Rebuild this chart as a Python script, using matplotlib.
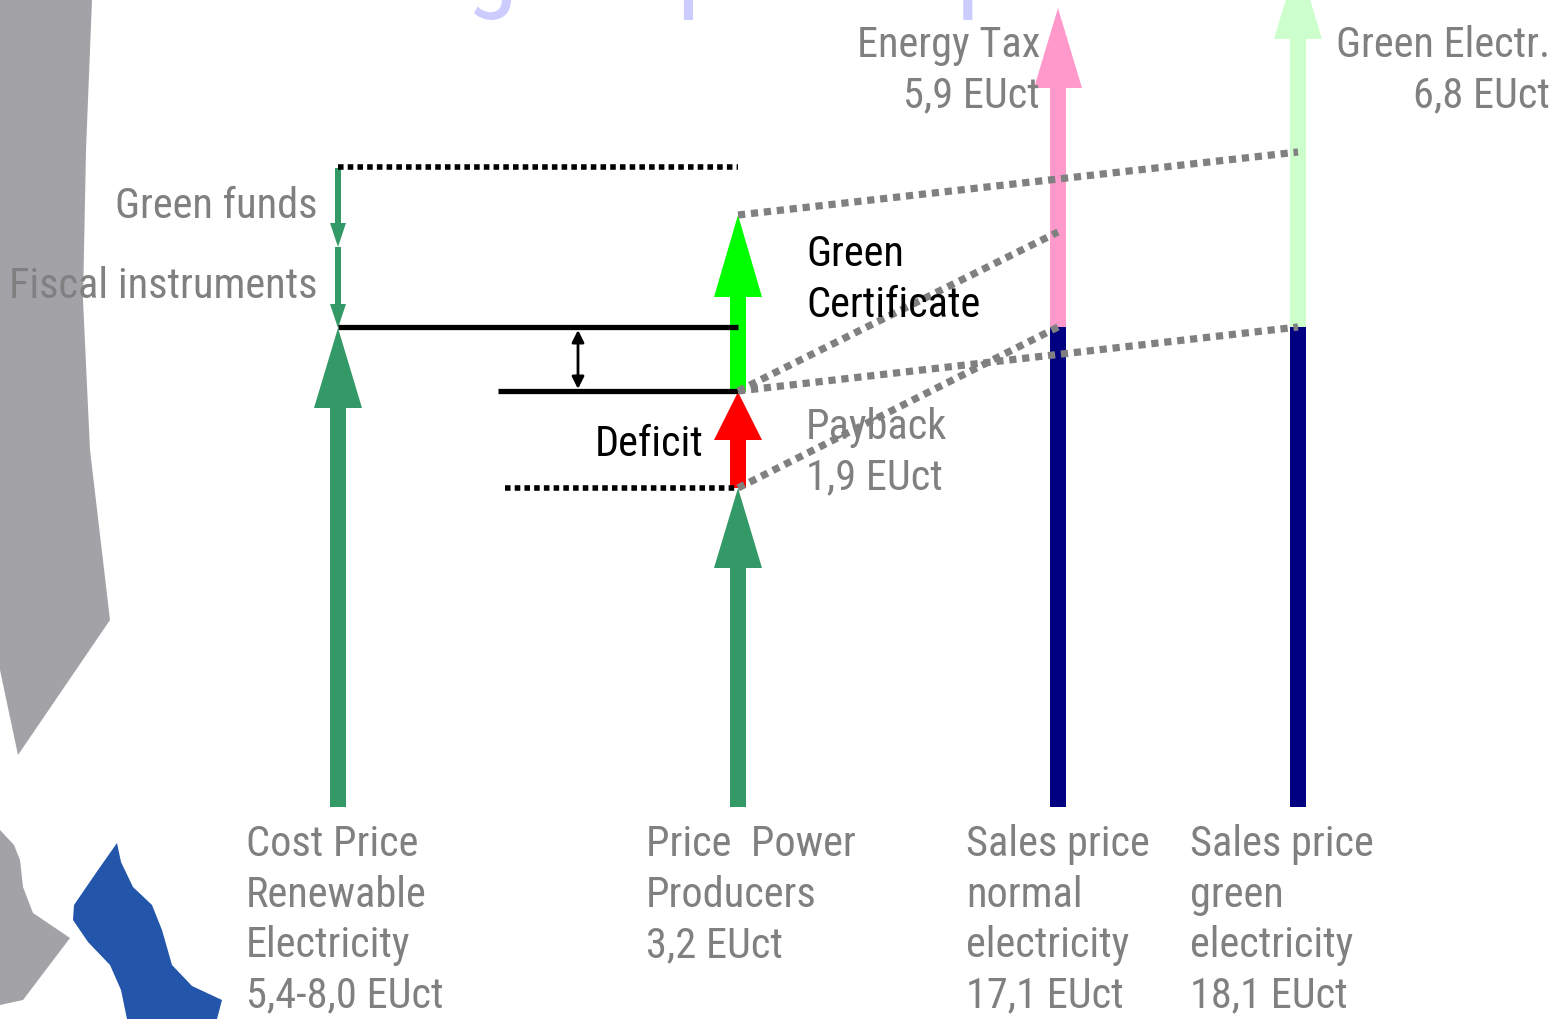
import matplotlib
matplotlib.use("Agg")
import matplotlib.pyplot as plt
from matplotlib import font_manager as fm
from matplotlib.patches import FancyArrow

# labels under the columns
col_labels = ["Cost Price\nRenewable\nElectricity\n5,4-8,0 EUct",
              "Price  Power\nProducers\n3,2 EUct",
              "Sales price\nnormal\nelectricity\n17,1 EUct",
              "Sales price\ngreen\nelectricity\n18,1 EUct"]
col_x = [338, 738, 1058, 1298]
label_x = [246, 646, 966, 1190]

# levels of the diagram (picture units, y grows downwards)
base = 807
cost_top = 328
funds_top = 168
funds_mid = 247
producer_top = 488
deficit_top = 392
cert_top = 215
sales_split = 327
tax_top = 8
green_el_top = -41

top_labels = ["Energy Tax\n5,9 EUct", "Green Electr.\n6,8 EUct"]
top_label_x = [1040, 1550]

title_first = "Subsidising"
title_rest = " of  power producers"

GREEN = '#339966'
GRAY = '#808080'
NAVY = '#000080'


def narrow_font():
    # look for a narrow / condensed regular face among the installed fonts
    found = []
    for f in fm.fontManager.ttflist:
        narrow = ('Narrow' in f.name or 'Condensed' in f.name
                  or f.stretch in ('condensed', 'semi-condensed', 'extra-condensed'))
        if narrow and f.style == 'normal' and f.weight in (400, 'normal', 'regular'):
            found.append(f)
    order = ['Liberation Sans Narrow', 'Roboto Condensed', 'DejaVu Sans', 'Open Sans']
    found.sort(key=lambda f: order.index(f.name) if f.name in order else len(order))
    return found[0].fname if found else None


fpath = narrow_font()
FS = 30.5 if fpath else 25


def font(size=None):
    size = size or FS
    if fpath:
        return fm.FontProperties(fname=fpath, size=size)
    return fm.FontProperties(family='Liberation Sans', size=size)


fig = plt.figure(figsize=(15.58, 10.19), dpi=100)
ax = fig.add_axes([0, 0, 1, 1])
ax.set_xlim(0, 1558)
ax.set_ylim(1019, 0)
ax.axis('off')

# decoration: grey and blue shapes of the slide template
grey_big = [(0, 0), (92, 0), (86, 150), (83, 300), (90, 450), (110, 620), (18, 755), (0, 670)]
grey_small = [(0, 830), (14, 845), (20, 860), (23, 887), (33, 913), (70, 938), (23, 1000), (0, 1005)]
blue_wave = [(117, 843), (121, 862), (133, 887), (152, 905), (162, 930), (172, 965), (192, 986),
             (222, 1000), (217, 1019), (127, 1019), (121, 990), (110, 965), (88, 942),
             (73, 920), (74, 905), (98, 870)]
ax.fill(*zip(*grey_big), color='#a2a2a7', lw=0, zorder=1)
ax.fill(*zip(*grey_small), color='#a2a2a7', lw=0, zorder=1)
ax.fill(*zip(*blue_wave), color='#2356aa', lw=0, zorder=1)

# title, mostly cut off at the top; the final "g" of the first word sits near x=495
renderer = fig.canvas.get_renderer()
probe = ax.text(0, 0, title_first, fontproperties=font(76))
first_w = probe.get_window_extent(renderer).width
probe.remove()
ax.text(495 + 23 - first_w, -2, title_first + title_rest, fontproperties=font(76),
        color='#ccccff', ha='left', va='baseline', zorder=1)


def up_arrow(x, y0, y1, color, width=16, head_w=48, head_l=80, z=3):
    ax.add_patch(FancyArrow(x, y0, 0, y1 - y0, width=width, head_width=head_w,
                            head_length=head_l, length_includes_head=True,
                            fc=color, ec='none', lw=0, zorder=z))


# cost price and producer price
up_arrow(col_x[0], base, cost_top, GREEN)
up_arrow(col_x[1], base, producer_top, GREEN)
# deficit and green certificate
up_arrow(col_x[1], producer_top, deficit_top, '#ff0000', head_l=48)
up_arrow(col_x[1], deficit_top, cert_top, '#00ff00', head_l=82)

# green funds / fiscal instruments
up_arrow(col_x[0], funds_top, funds_mid, GREEN, width=6, head_w=16, head_l=24)
up_arrow(col_x[0], funds_mid, cost_top, GREEN, width=6, head_w=16, head_l=24)

# sales price columns: navy base plus tax / green premium
ax.bar(col_x[2:], [sales_split - base] * 2, bottom=base, width=16, color=NAVY, zorder=3)
up_arrow(col_x[2], sales_split, tax_top, '#ff99cc', head_l=80)
up_arrow(col_x[3], sales_split, green_el_top, '#ccffcc', head_l=80)

# black reference lines
ax.plot([col_x[0], col_x[1]], [funds_top - 1, funds_top - 1], color='black', lw=4,
        ls=(0, (1, 0.75)), dash_capstyle='butt', zorder=4)
ax.plot([col_x[0], col_x[1]], [sales_split, sales_split], color='black', lw=3.8,
        solid_capstyle='butt', zorder=4)
ax.plot([498, col_x[1]], [deficit_top - 1, deficit_top - 1], color='black', lw=3.8,
        solid_capstyle='butt', zorder=4)
ax.plot([505, col_x[1]], [producer_top, producer_top], color='black', lw=4,
        ls=(0, (1, 0.75)), dash_capstyle='butt', zorder=4)
ax.annotate('', xy=(578, 330), xytext=(578, 389),
            arrowprops=dict(arrowstyle='<|-|>', color='black', lw=2, mutation_scale=18,
                            shrinkA=0, shrinkB=0), zorder=4)

# grey dotted links to the sales columns
links = [((col_x[1], cert_top), (col_x[3], 152)),
         ((col_x[1], deficit_top - 1), (col_x[2], 232)),
         ((col_x[1], deficit_top - 1), (col_x[3], sales_split)),
         ((col_x[1], producer_top), (col_x[2], sales_split))]
for (xa, ya), (xb, yb) in links:
    ax.plot([xa, xb], [ya, yb], color=GRAY, lw=5.2, ls=(0, (1, 0.8)),
            dash_capstyle='butt', zorder=5)

# texts
LS = 1.30
for lab, x in zip(col_labels, label_x):
    ax.text(x, 824, lab, fontproperties=font(), color=GRAY, ha='left', va='top',
            linespacing=LS, zorder=6)
for lab, x in zip(top_labels, top_label_x):
    ax.text(x, 25, lab, fontproperties=font(), color=GRAY, ha='right', va='top',
            linespacing=LS, zorder=6)
ax.text(318, 206, "Green funds", fontproperties=font(), color=GRAY, ha='right', va='center', zorder=6)
ax.text(318, 286, "Fiscal instruments", fontproperties=font(), color=GRAY, ha='right', va='center',
        zorder=6)
ax.text(806, 234, "Green\nCertificate", fontproperties=font(), color='black', ha='left', va='top',
        linespacing=LS, zorder=6)
ax.text(704, 445, "Deficit", fontproperties=font(), color='black', ha='right', va='center', zorder=6)
ax.text(806, 407, "Payback\n1,9 EUct", fontproperties=font(), color=GRAY, ha='left', va='top',
        linespacing=LS, zorder=6)

fig.savefig('out.png', dpi=100)
